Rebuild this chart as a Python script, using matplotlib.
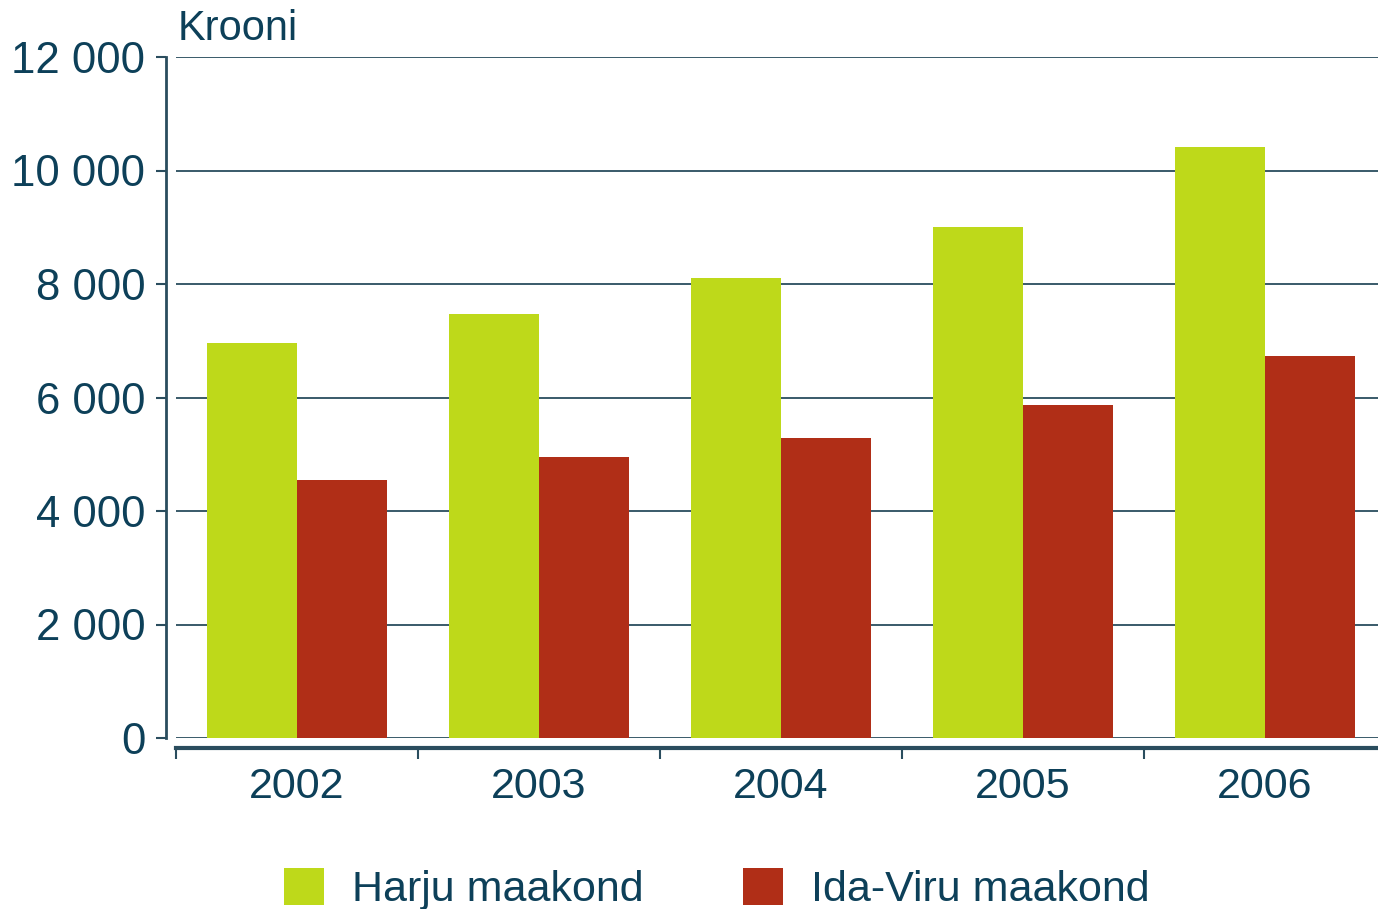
import numpy as np
import matplotlib.pyplot as plt

# andmed
years = ['2002', '2003', '2004', '2005', '2006']
harju = [6960, 7470, 8100, 9000, 10420]
idaviru = [4550, 4950, 5290, 5870, 6730]

green = '#bed91a'
red = '#b02e17'
txt = '#0d4059'
line = '#2a4d5e'

plt.rcParams['font.family'] = ['Liberation Sans', 'DejaVu Sans']

fig = plt.figure(figsize=(13.78, 9.09), dpi=100)
ax = fig.add_axes([176 / 1378, 171 / 909, 1210 / 1378, 681 / 909])

x = np.arange(len(years))
w = 0.372
ax.bar(x - w / 2, harju, w, color=green, label='Harju maakond', zorder=3)
ax.bar(x + w / 2, idaviru, w, color=red, label='Ida-Viru maakond', zorder=3)

ax.set_xlim(-0.5, 4.5)
ax.set_ylim(0, 12000)
ax.set_yticks(range(0, 12001, 2000))
ax.set_yticklabels(['0', '2 000', '4 000', '6 000', '8 000', '10 000', '12 000'])
ax.yaxis.grid(True, color=line, linewidth=1.3, zorder=0)

ax.set_xticks(x)
ax.set_xticklabels(years)
ax.set_xticks(np.arange(-0.5, 4.6, 1), minor=True)
ax.tick_params(axis='x', which='major', length=0, pad=14, labelsize=31, labelcolor=txt)
ax.tick_params(axis='x', which='minor', length=8, width=1.5, color=line, direction='out')
ax.tick_params(axis='y', length=7, width=1.5, color=line, pad=8, labelsize=31.5, labelcolor=txt)
ax.get_xticklabels()[2].set_color('black')

for s in ['top', 'right']:
    ax.spines[s].set_visible(False)
ax.spines['left'].set_position(('outward', 7))
ax.spines['left'].set_color(line)
ax.spines['left'].set_linewidth(2)
ax.spines['bottom'].set_position(('outward', 7))
ax.spines['bottom'].set_color(line)
ax.spines['bottom'].set_linewidth(3)

fig.text(178 / 1378, 1 - 40 / 909, 'Krooni', fontsize=30, color=txt, ha='left', va='baseline')

fig.legend(loc='center', bbox_to_anchor=(0.52, 0.022), ncol=2, frameon=False,
           fontsize=31, labelcolor=txt, handlelength=0.93, handleheight=0.93,
           handletextpad=0.65, columnspacing=2.3, borderpad=0)

fig.savefig('out.png', dpi=100)
